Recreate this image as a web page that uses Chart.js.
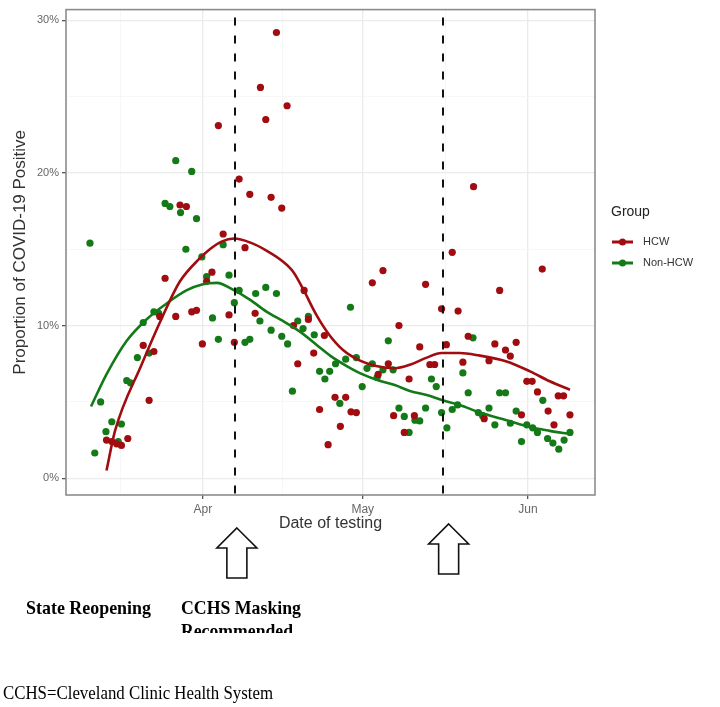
<!DOCTYPE html>
<html>
<head>
<meta charset="utf-8">
<script src="https://cdn.jsdelivr.net/npm/chart.js@4.4.0/dist/chart.umd.min.js"></script>
<style>
  html, body { margin: 0; padding: 0; background: #fff; }
</style>
</head>
<body>
<canvas id="myChart" width="720" height="707"></canvas>
<script>
// days counted from 1 March (Apr 1 = 31, May 1 = 61, Jun 1 = 92)
const hcwDays = [12.9, 13.9, 14.8, 15.7, 16.9, 19.8, 20.9, 21.8, 22.9, 23.9, 25.9, 26.7, 27.9, 28.9, 29.8,
  30.9, 31.7, 32.7, 33.9, 34.8, 35.9, 36.9, 37.8, 38.9, 39.8, 40.8, 41.8, 42.8, 43.8, 44.8, 45.8, 46.8,
  48.0, 48.8, 50.0, 50.8, 51.8, 52.9, 53.8, 54.5, 55.8, 56.8, 57.8, 58.8, 59.8, 62.8, 63.9, 64.8, 65.8,
  66.8, 67.8, 68.8, 69.7, 70.7, 71.7, 72.8, 73.6, 74.5, 75.8, 76.7, 77.8, 78.9, 79.8, 80.8, 81.8, 83.8,
  84.7, 85.8, 86.7, 87.8, 88.7, 89.8, 90.8, 91.8, 92.8, 93.8, 94.7, 95.8, 96.9, 97.7, 98.7, 99.9];
const hcwPct = [2.5, 2.4, 2.25, 2.15, 2.6, 8.7, 5.1, 8.3, 10.6, 13.1, 10.6, 17.9, 17.8, 10.9, 11.0,
  8.8, 12.9, 13.5, 23.1, 16.0, 10.7, 8.9, 19.6, 15.1, 18.6, 10.8, 25.6, 23.5, 18.4, 29.2, 17.7, 24.4,
  10.0, 7.5, 12.3, 10.4, 8.2, 4.5, 9.35, 2.2, 5.3, 3.4, 5.3, 4.35, 4.3, 12.8, 6.8, 13.6, 7.5,
  4.1, 10.0, 3.0, 6.5, 4.1, 8.6, 12.7, 7.45, 7.45, 11.1, 8.75, 14.8, 10.95, 7.6, 9.3, 19.1, 3.9,
  7.7, 8.8, 12.3, 8.4, 8.0, 8.9, 4.15, 6.35, 6.35, 5.65, 13.7, 4.4, 3.5, 5.4, 5.4, 4.15];

const nonHcwDays = [9.8, 10.7, 11.8, 12.8, 13.9, 15.1, 15.7, 16.7, 17.4, 18.7, 19.8, 20.9, 21.8, 22.7,
  23.9, 24.8, 25.9, 26.8, 27.8, 28.9, 29.8, 30.8, 31.7, 32.8, 33.9, 34.8, 35.9, 36.9, 37.8, 38.9, 39.8,
  40.9, 41.7, 42.8, 43.8, 44.8, 45.8, 46.9, 47.8, 48.8, 49.8, 50.8, 51.9, 52.9, 53.9, 54.8, 55.9, 56.7,
  57.8, 58.7, 59.8, 60.9, 61.8, 62.8, 63.7, 64.8, 65.8, 66.7, 67.8, 68.8, 69.7, 70.8, 71.7, 72.8, 73.9,
  74.8, 75.8, 76.8, 77.8, 78.8, 79.8, 80.8, 81.7, 82.7, 83.5, 84.7, 85.8, 86.7, 87.8, 88.7, 89.8, 90.8,
  91.8, 92.9, 93.8, 94.8, 95.7, 96.7, 97.8, 98.8, 99.9];
const nonHcwPct = [15.4, 1.65, 5.0, 3.05, 3.7, 2.4, 3.55, 6.4, 6.25, 7.9, 10.2, 8.2, 10.9, 10.8,
  18.0, 17.8, 20.8, 17.4, 15.0, 20.1, 17.0, 14.5, 13.2, 10.5, 9.1, 15.3, 13.3, 11.5, 12.3, 8.9, 9.1,
  12.1, 10.3, 12.5, 9.7, 12.1, 9.3, 8.8, 5.7, 10.3, 9.8, 10.6, 9.4, 7.0, 6.5, 7.0, 7.5, 4.9,
  7.8, 11.2, 7.9, 6.0, 7.2, 7.5, 6.6, 7.1, 9.0, 7.1, 4.6, 4.05, 3.0, 3.8, 3.75, 4.6, 6.5,
  6.0, 4.3, 3.3, 4.5, 4.8, 6.9, 5.6, 9.2, 4.3, 4.1, 4.6, 3.5, 5.6, 5.6, 3.6, 4.4, 2.4,
  3.5, 3.3, 3.0, 5.1, 2.6, 2.3, 1.9, 2.5, 3.0];

// smoothed trend lines
const hcwSmoothDays = [12.9, 14.5, 19.5, 23.3, 26.7, 30.4, 32.3, 34.5, 36.9, 39.8, 43, 46, 48, 49.8,
  52.3, 54.7, 57.3, 60.5, 63.5, 67, 70, 73, 75.8, 79.2, 82.7, 88, 92.4, 96.1, 99.9];
const hcwSmoothPct = [0.5, 3.1, 7.45, 10.5, 12.9, 14.4, 15.0, 15.5, 15.7, 15.45, 14.9, 14.2, 13.5, 12.4,
  10.7, 9.4, 8.4, 7.7, 7.35, 7.2, 7.45, 7.9, 8.2, 8.2, 8.05, 7.65, 7.0, 6.35, 5.8];
const nonHcwSmoothDays = [10, 12.9, 16.7, 20.4, 24.2, 27.9, 31, 33.6, 36.9, 39.8, 43, 46, 49.2, 52.3,
  55, 58, 61, 64, 67, 70, 73, 76, 79.2, 83, 88, 92.3, 96.1, 99.9];
const nonHcwSmoothPct = [4.7, 6.8, 9.0, 10.4, 11.45, 12.3, 12.7, 12.8, 12.3, 11.7, 10.9, 10.3, 9.6, 8.75,
  8.0, 7.35, 6.8, 6.4, 6.1, 5.7, 5.45, 5.1, 4.8, 4.3, 3.8, 3.35, 3.1, 2.9];

const xTickDays = [15.5, 31, 46, 61, 76.5, 92];
const xTickLabels = ['', 'Apr', '', 'May', '', 'Jun'];
const yTicks = [0, 5, 10, 15, 20, 25, 30];
const yTickLabels = ['0%', '', '10%', '', '20%', '', '30%'];

const eventDays = [37, 76];
const groupNames = ['HCW', 'Non-HCW'];
const groupColors = ['#a00c10', '#137a17'];

const toPoints = (xs, ys) => xs.map((x, i) => ({ x: x, y: ys[i] }));

function fitText(ctx, text, x, y, width) {
    let w = ctx.measureText(text).width;
    ctx.save();
    ctx.translate(x, y);
    ctx.scale(width / w, 1);
    ctx.fillText(text, 0, 0);
    ctx.restore();
}

function drawArrow(ctx, cx, top) {
    ctx.beginPath();
    ctx.moveTo(cx, top);
    ctx.lineTo(cx + 20, top + 20);
    ctx.lineTo(cx + 10, top + 20);
    ctx.lineTo(cx + 10, top + 50);
    ctx.lineTo(cx - 10, top + 50);
    ctx.lineTo(cx - 10, top + 20);
    ctx.lineTo(cx - 20, top + 20);
    ctx.closePath();
    ctx.fillStyle = '#fff';
    ctx.fill();
    ctx.lineWidth = 1.6;
    ctx.strokeStyle = '#111';
    ctx.stroke();
}

const extras = {
    id: 'extras',
    afterDatasetsDraw(chart) {
        let ctx = chart.ctx;
        let area = chart.chartArea;
        let xs = chart.scales.x;

        // event lines
        ctx.save();
        ctx.strokeStyle = '#111';
        ctx.lineWidth = 2;
        ctx.setLineDash([8, 10]);
        eventDays.forEach(d => {
            let px = Math.round(xs.getPixelForValue(d));
            ctx.beginPath();
            ctx.moveTo(px, area.top + 8);
            ctx.lineTo(px, area.bottom);
            ctx.stroke();
        });
        ctx.restore();

        // panel border
        ctx.save();
        ctx.strokeStyle = '#8c8c8c';
        ctx.lineWidth = 1.6;
        ctx.strokeRect(area.left, area.top, area.right - area.left, area.bottom - area.top);
        ctx.restore();
    },
    afterDraw(chart) {
        let ctx = chart.ctx;
        let xs = chart.scales.x;

        // arrows under the event lines
        drawArrow(ctx, xs.getPixelForValue(eventDays[0]) + 2, 528);
        drawArrow(ctx, xs.getPixelForValue(eventDays[1]) + 6, 524);

        // legend
        ctx.save();
        ctx.fillStyle = '#222';
        ctx.textBaseline = 'middle';
        ctx.font = '14px "Liberation Sans"';
        ctx.fillText('Group', 611, 212);
        ctx.font = '11px "Liberation Sans"';
        groupNames.forEach((name, i) => {
            let y = 242 + i * 21;
            ctx.strokeStyle = groupColors[i];
            ctx.lineWidth = 3;
            ctx.beginPath();
            ctx.moveTo(612, y);
            ctx.lineTo(633, y);
            ctx.stroke();
            ctx.fillStyle = groupColors[i];
            ctx.beginPath();
            ctx.arc(622.5, y, 3.5, 0, Math.PI * 2);
            ctx.fill();
            ctx.fillStyle = '#333';
            ctx.fillText(name, 643, y);
        });
        ctx.restore();

        // notes under the chart
        ctx.save();
        ctx.fillStyle = '#000';
        ctx.textBaseline = 'alphabetic';
        ctx.font = 'bold 19px "Liberation Serif"';
        fitText(ctx, 'State Reopening', 26, 614, 125);
        fitText(ctx, 'CCHS Masking', 181, 614, 120);
        ctx.beginPath();
        ctx.rect(170, 618, 200, 15);
        ctx.clip();
        fitText(ctx, 'Recommended', 181, 637, 112);
        ctx.restore();

        ctx.save();
        ctx.fillStyle = '#000';
        ctx.font = '18px "Liberation Serif"';
        fitText(ctx, 'CCHS=Cleveland Clinic Health System', 3, 699, 270);
        ctx.restore();
    }
};

let ctx = document.getElementById('myChart').getContext('2d');

let chartOne = new Chart(ctx, {
    type: 'scatter',
    data: {
        datasets: [
            {
                label: 'HCW trend',
                data: toPoints(hcwSmoothDays, hcwSmoothPct),
                showLine: true,
                borderColor: groupColors[0],
                borderWidth: 2.6,
                pointRadius: 0,
                cubicInterpolationMode: 'monotone',
                order: 0
            },
            {
                label: 'Non-HCW trend',
                data: toPoints(nonHcwSmoothDays, nonHcwSmoothPct),
                showLine: true,
                borderColor: groupColors[1],
                borderWidth: 2.6,
                pointRadius: 0,
                cubicInterpolationMode: 'monotone',
                order: 0
            },
            {
                label: 'HCW',
                data: toPoints(hcwDays, hcwPct),
                backgroundColor: groupColors[0],
                borderWidth: 0,
                pointRadius: 3.6,
                order: 1
            },
            {
                label: 'Non-HCW',
                data: toPoints(nonHcwDays, nonHcwPct),
                backgroundColor: groupColors[1],
                borderWidth: 0,
                pointRadius: 3.6,
                order: 1
            }
        ]
    },
    options: {
        responsive: false,
        animation: false,
        devicePixelRatio: 1,
        layout: { padding: { left: 0, right: 125, top: 5, bottom: 172 } },
        plugins: { legend: { display: false }, tooltip: { enabled: false } },
        scales: {
            x: {
                type: 'linear',
                min: 5.3,
                max: 104.6,
                afterBuildTicks: s => { s.ticks = xTickDays.map(v => ({ value: v })); },
                afterFit: s => { s.height = 40; },
                ticks: {
                    autoSkip: false,
                    maxRotation: 0,
                    padding: 3,
                    color: '#666',
                    font: { family: 'Liberation Sans', size: 12 },
                    callback: (v, i) => xTickLabels[i]
                },
                grid: {
                    color: c => xTickLabels[c.index] ? '#ebebeb' : '#f5f5f5',
                    lineWidth: c => xTickLabels[c.index] ? 1.3 : 0.8,
                    tickLength: 4,
                    tickColor: c => xTickLabels[c.index] ? '#555' : 'rgba(0,0,0,0)'
                },
                border: { display: false },
                title: {
                    display: true,
                    text: 'Date of testing',
                    color: '#333',
                    font: { family: 'Liberation Sans', size: 16 },
                    padding: { top: 0, bottom: 2 }
                }
            },
            y: {
                min: -1.1,
                max: 30.7,
                afterBuildTicks: s => { s.ticks = yTicks.map(v => ({ value: v })); },
                afterFit: s => { s.width = 66; },
                ticks: {
                    padding: 3,
                    color: '#666',
                    font: { family: 'Liberation Sans', size: 11 },
                    callback: (v, i) => yTickLabels[i]
                },
                grid: {
                    color: c => yTickLabels[c.index] ? '#ebebeb' : '#f5f5f5',
                    lineWidth: c => yTickLabels[c.index] ? 1.3 : 0.8,
                    tickLength: 4,
                    tickColor: c => yTickLabels[c.index] ? '#555' : 'rgba(0,0,0,0)'
                },
                border: { display: false },
                title: {
                    display: true,
                    text: 'Proportion of COVID-19 Positive',
                    color: '#333',
                    font: { family: 'Liberation Sans', size: 17 },
                    padding: { top: 10, bottom: 0 }
                }
            }
        }
    },
    plugins: [extras]
});
</script>
</body>
</html>
